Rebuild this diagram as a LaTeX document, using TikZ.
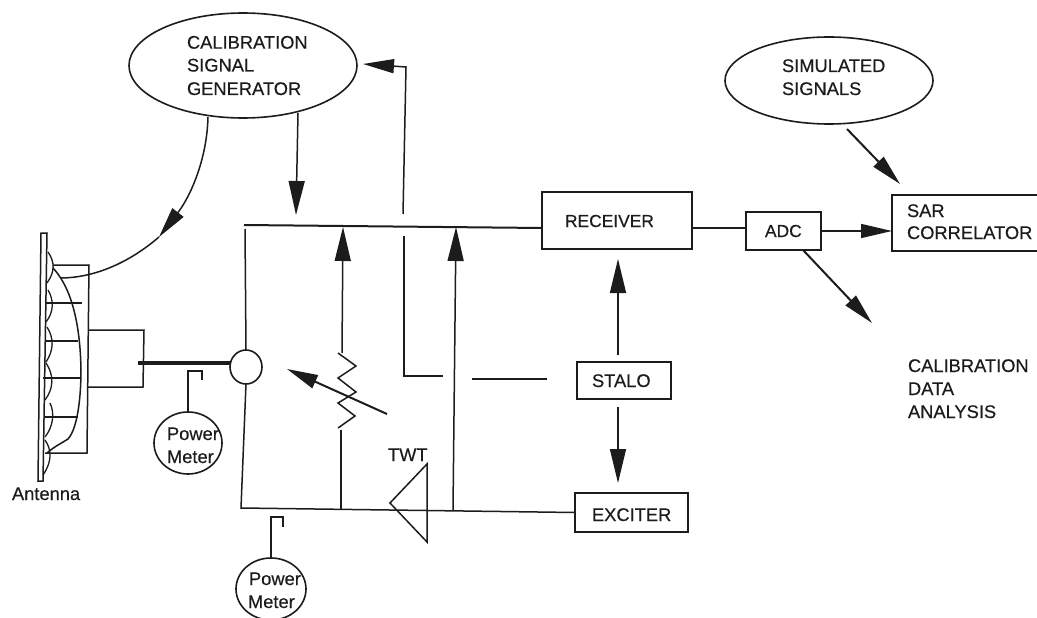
\documentclass[tikz,border=0pt]{standalone}
\usepackage{fontspec}
\setmainfont{Liberation Sans}
\newfontfamily\labfont{Liberation Sans}[FakeBold=0.35]
\usetikzlibrary{arrows.meta,shapes.geometric}
\definecolor{ink}{HTML}{1C1C1C}
\tikzset{
  every path/.style={line join=miter},
  ln/.style={draw=ink,line width=1.5pt},
  fine/.style={draw=ink,line width=1.3pt},
  feed/.style={draw=ink,line width=3.6pt},
  arr/.style={ln,-{Triangle[length=34pt,width=16pt,color=ink]}},
  arrs/.style={ln,-{Triangle[length=31pt,width=14pt,color=ink]}},
  arrd/.style={arrs,line width=2pt},
  boxnode/.style={draw=ink,line width=1.6pt,rectangle,inner sep=0pt,outer sep=0pt},
  ovalnode/.style={draw=ink,line width=1.6pt,ellipse,inner sep=0pt,outer sep=0pt},
  txt/.style={anchor=base west,inner sep=0pt,outer sep=0pt,text=ink,font=\labfont\fontsize{18.3}{22}\selectfont},
  txts/.style={txt,font=\labfont\fontsize{17.4}{20}\selectfont}
}
\begin{document}
\begin{tikzpicture}[x=1pt,y=-1pt]
\useasboundingbox[fill=white] (0,0) rectangle (1037,618);

% ovals
\node[ovalnode,minimum width=228pt,minimum height=105pt] (cal) at (243,65.5) {};
\node[ovalnode,minimum width=208pt,minimum height=87pt] (sim) at (829,80.5) {};
\node[ovalnode,minimum width=32pt,minimum height=34pt] (hyb) at (246,367) {};
\node[ovalnode,minimum width=68pt,minimum height=62pt] (pm1) at (188,443) {};
\node[ovalnode,minimum width=70pt,minimum height=62pt] (pm2) at (271,589) {};

% boxes
\node[boxnode,minimum width=150pt,minimum height=57pt] (rx) at (617,220.5) {};
\node[boxnode,minimum width=75pt,minimum height=38pt] (adc) at (783.5,231) {};
\node[boxnode,minimum width=94pt,minimum height=37pt] (stalo) at (624,380.5) {};
\node[boxnode,minimum width=113pt,minimum height=39pt] (exc) at (631.5,512.5) {};
\node[rectangle,inner sep=0pt,outer sep=0pt,minimum width=145pt,minimum height=56pt] (sar) at (964.5,223) {};
\draw[boxnode] (sar.north east) -- (sar.north west) -- (sar.south west) -- (sar.south east);

% labels
\node[txt] (t1) at (187,48.7) {CALIBRATION};
\node[txt] (t2) at (187,71.5) {SIGNAL};
\node[txt] (t3) at (187,95) {GENERATOR};
\node[txt] (t4) at (782,72) {SIMULATED};
\node[txt] (t5) at (782,95) {SIGNALS};
\node[txts] (t6) at (565,227) {RECEIVER};
\node[txts] (t7) at (765,237) {ADC};
\node[txt] (t8) at (907,217) {SAR};
\node[txt] (t9) at (907,239) {CORRELATOR};
\node[txt] (t10) at (592,387) {STALO};
\node[txt] (t11) at (592,521) {EXCITER};
\node[txt] (t12) at (908,372) {CALIBRATION};
\node[txt] (t13) at (908,395) {DATA};
\node[txt] (t14) at (908,418) {ANALYSIS};
\node[txt] (t15) at (388,461) {TWT};
\node[txt] (t16) at (12,500) {Antenna};
\node[txt] (t17) at (167,440) {Power};
\node[txt] (t18) at (167,463) {Meter};
\node[txt] (t19) at (249,585) {Power};
\node[txt] (t20) at (248,608) {Meter};

% named free ends
\coordinate (busL) at (244,225);
\coordinate (botL) at (241,508);
\coordinate (feedTop) at (406,67);
\coordinate (feedTip) at (363,64);
\coordinate (feedBot) at (403,214);
\coordinate (calDown) at (298,113);
\coordinate (calTip) at (296,215);
\coordinate (curveTip) at (159,237);
\coordinate (curveEnd) at (60,278);
\coordinate (feed2Top) at (404,236);
\coordinate (feed2Cnr) at (404,376);
\coordinate (feed2End) at (443,376);
\coordinate (gapL) at (472,379);
\coordinate (gapR) at (547,379);
\coordinate (a1Tip) at (343,227);
\coordinate (a1Bot) at (342,353);
\coordinate (a2Tip) at (456,227);
\coordinate (a2Bot) at (453,510);
\coordinate (resBot) at (341,430);
\coordinate (resBase) at (341,510);
\coordinate (varTail) at (387,414);
\coordinate (varTip) at (287,369);

% bus lines
\draw[ln,line width=2pt] (busL) -- (rx.west |- 0,228);
\draw[ln] (245,229) -- (hyb.north);
\draw[ln] (hyb.south) -- (botL) -- (exc.west);
\draw[ln] (rx.east |- 0,228) -- (adc.west |- 0,228);

% arrows
\draw[arrs] (adc.east) -- (sar.west |- adc.east);
\draw[arrd] (847,129) -- (900,184);
\draw[arrd] (803,250) -- (872,323);
\draw[arr] (618,355) -- (618,259);
\draw[arr] (618,407) -- (618,483);
\draw[arr] (calDown) -- (calTip);
\draw[arrs] (feedBot) -- (feedTop) -- (feedTip);
\draw[ln] (feed2Top) -- (feed2Cnr) -- (feed2End);
\draw[ln] (gapL) -- (gapR);
\draw[arr] (a1Bot) -- (a1Tip);
\draw[arr] (a2Bot) -- (a2Tip);
\draw[arrs] (208,117) .. controls (207,160) and (190,197) .. (curveTip);
\draw[ln] (curveTip) .. controls (130,262) and (95,278) .. (curveEnd);

% variable resistor
\draw[ln] (a1Bot) ++(-4,0) -- (356,366) -- (338,378) -- (356,392) -- (338,403) -- (355,416) -- (338,428);
\draw[ln] (resBot) -- (resBase);
\draw[arrd] (varTail) -- (varTip);

% TWT
\draw[ln] (390,503) -- (427,464) -- (427,542) -- cycle;

% power meter couplers
\draw[ln] (pm1.north) -- (188,371) -- (202,371) -- (202,380);
\draw[ln] (pm2.north) -- (271,517) -- (283,517) -- (283,527);

% antenna feed
\draw[feed] (138,363) -- (hyb.west |- 0,363);
\draw[ln] (89,330) -- (144,330) -- (143,387) -- (87,387);
\draw[ln] (53,265) -- (89,265) -- (87,453) -- (45,453);

% antenna plate
\draw[ln] (41,233) -- (47,233) -- (43,481) -- (38,481) -- cycle;

% scallops
\draw[fine] (48,252) .. controls (55,262) and (55,272) .. (47,283);
\draw[fine] (48,290) .. controls (54,300) and (54,312) .. (46,322);
\draw[fine] (47,327) .. controls (54,338) and (54,350) .. (46,362);
\draw[fine] (46,363) .. controls (54,375) and (54,388) .. (45,400);
\draw[fine] (50,403) .. controls (55,413) and (53,427) .. (45,437);
\draw[fine] (45,440) .. controls (52,450) and (52,462) .. (43,475);

% ribs
\draw[fine] (46,303) -- (82,303);
\draw[fine] (45,341) -- (78,341);
\draw[fine] (43,378) -- (80,378);
\draw[fine] (45,417) -- (78,417);

% horn outline
\draw[ln] (53,268) .. controls (66,282) and (80,310) .. (81,370)
  .. controls (81,395) and (78,428) .. (68,439)
  .. controls (62,443) and (55,446) .. (47,453);
\end{tikzpicture}
\end{document}
